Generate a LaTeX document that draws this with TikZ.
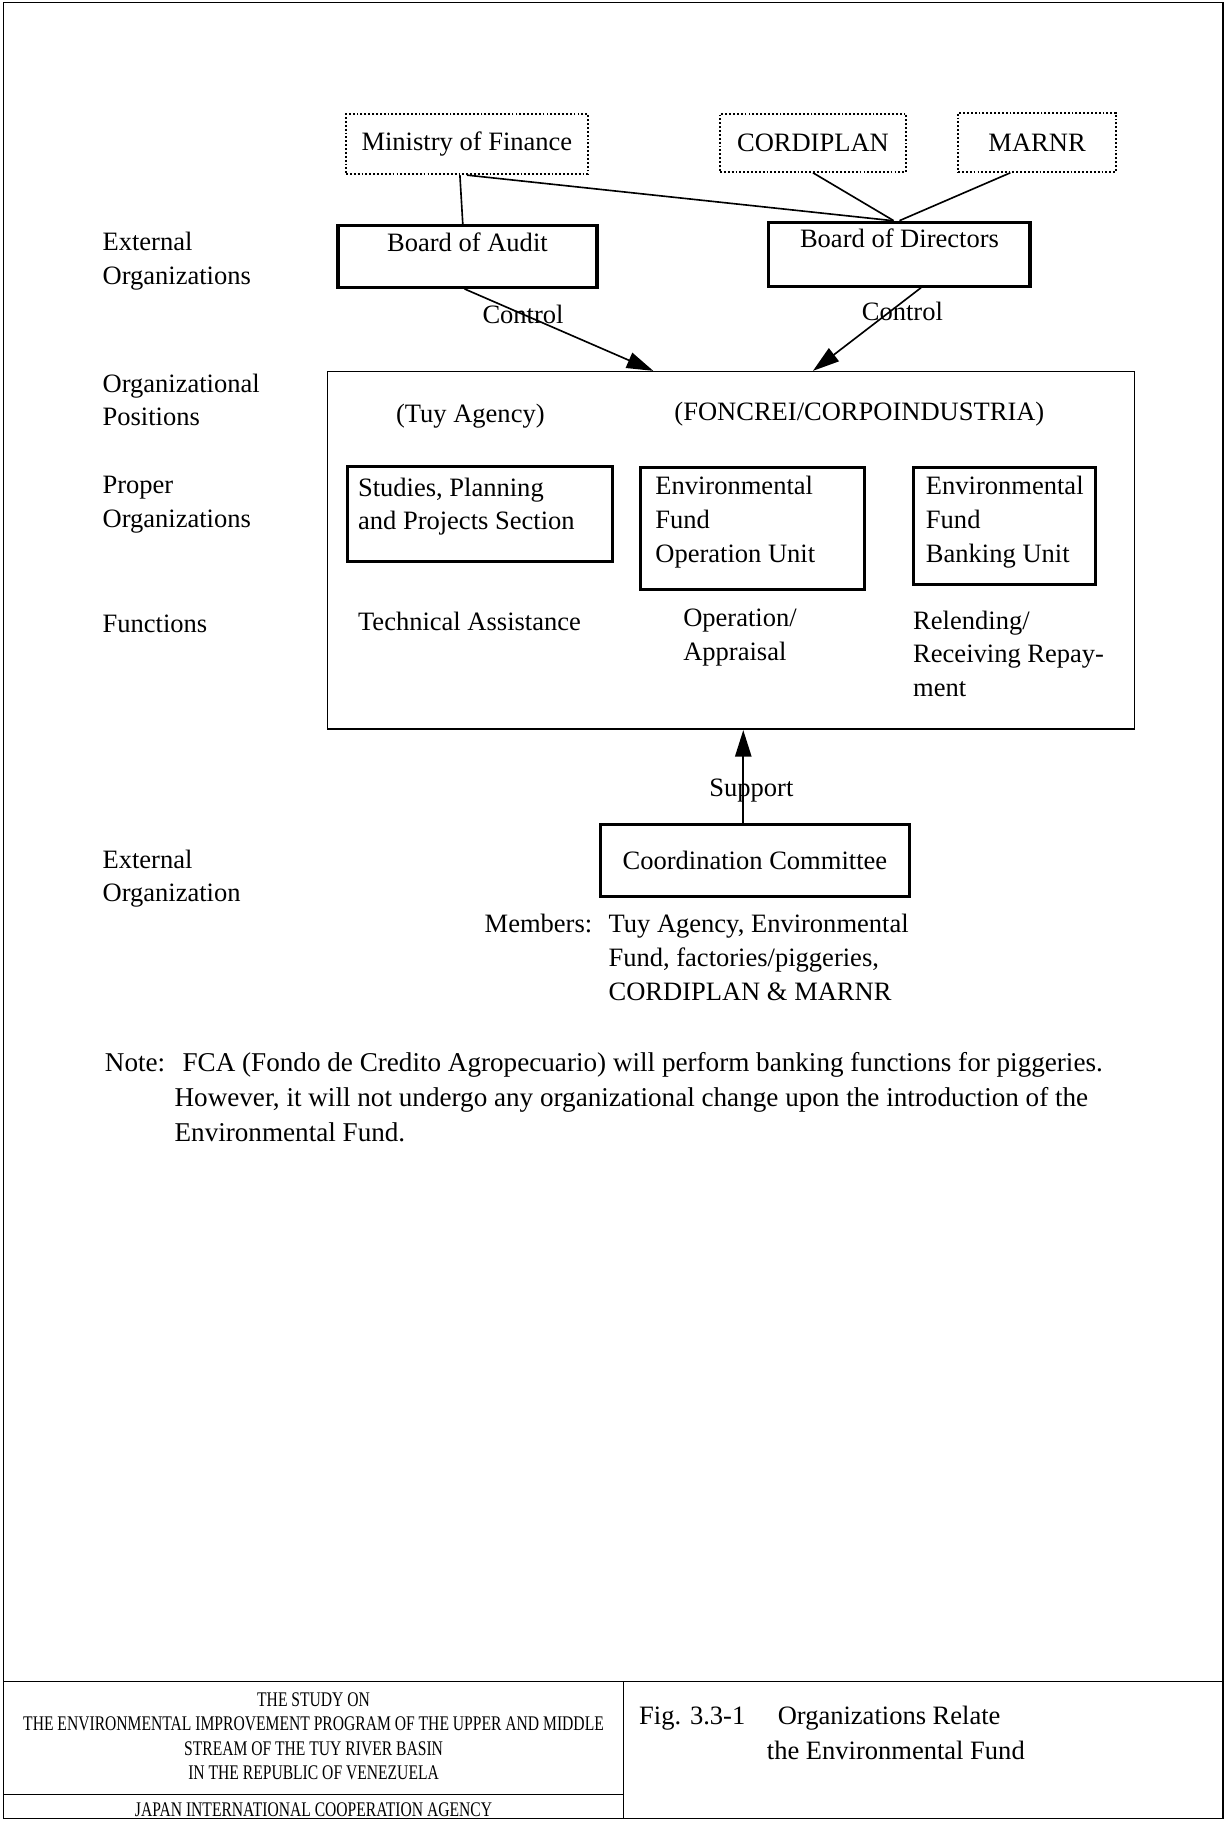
\documentclass[tikz,border=0pt]{standalone}
\usepackage{fontspec}
\setmainfont{Liberation Serif}
\newfontfamily\narrowserif[FakeStretch=0.75]{Liberation Serif}
\usetikzlibrary{arrows.meta}

\begin{document}
\begin{tikzpicture}[x=0.02cm,y=-0.02cm,
		dotbox/.style={draw, densely dotted, line width=0.9pt},
		orgbox/.style={draw, line width=1.6pt},
		unitbox/.style={draw, line width=1.5pt, anchor=north west, inner xsep=0.18cm, inner ysep=0.2cm},
		ctrl/.style={-{Triangle[length=13pt,width=8pt]}, line width=0.8pt},
		link/.style={line width=0.8pt}]
			\tikzstyle{every node}+=[inner sep=0pt, font=\fontsize{13}{16.5}\selectfont]
			\useasboundingbox (0,0) rectangle (1056,1568);
			\draw [black, line width=0.6pt] (3,2) rectangle (1053,1566);
			\node [anchor=west, align=left] (extorgs) at (88,225) {External\\Organizations};
			\node [anchor=west, align=left] (orgpos) at (88,344.5) {Organizational\\Positions};
			\node [anchor=west, align=left] (properorg) at (88,434.5) {Proper\\Organizations};
			\node [anchor=west] (functions) at (88,537) {Functions};
			\node [anchor=west, align=left] (extorg) at (88,756.5) {External\\Organization};
			\node [dotbox, minimum width=4.16cm, minimum height=1.04cm] (mof) at (402,124) {Ministry of Finance};
			\node [dotbox, minimum width=3.2cm, minimum height=1cm] (cord) at (700,123) {CORDIPLAN};
			\node [dotbox, minimum width=2.72cm, minimum height=1.02cm] (marnr) at (893,122.5) {MARNR};
			\node [orgbox, anchor=north, minimum width=4.46cm, text height=0.44cm, text depth=0.62cm] (audit) at (402.5,193) {Board of Audit};
			\node [orgbox, anchor=north, minimum width=4.5cm, text height=0.44cm, text depth=0.66cm] (bod) at (774.5,190) {Board of Directors};
			\draw [link] ([xshift=-0.12cm]mof.south) -- ([xshift=-0.08cm]audit.north);
			\draw [link] (mof.south) -- ([xshift=-0.12cm]bod.north);
			\draw [link] (cord.south) -- ([xshift=-0.1cm]bod.north);
			\draw [link] ([xshift=-0.46cm]marnr.south) -- (bod.north);
			\node [draw, line width=0.8pt, minimum width=13.9cm, minimum height=6.16cm] (main) at (629.5,474) {};
			\coordinate (inaudit) at ([xshift=-1.34cm]main.north);
			\coordinate (inbod) at ([xshift=1.41cm]main.north);
			\draw [ctrl] ([xshift=-0.05cm]audit.south) -- node[pos=0.31] {Control} (inaudit);
			\draw [ctrl] ([xshift=0.37cm]bod.south) -- node[pos=0.29, xshift=0.22cm] {Control} (inbod);
			\node (tuy) at (405,358) {(Tuy Agency)};
			\node (foncrei) at (740,357) {(FONCREI/CORPOINDUSTRIA)};
			\node [unitbox] (studies) at (298,400) {\parbox[t][1.24cm][t]{4.2cm}{\raggedright Studies, Planning\\and Projects Section}};
			\node [unitbox, inner xsep=0.26cm, inner ysep=0.16cm] (opunit) at (550,401) {\parbox[t][1.78cm][t]{3.34cm}{\raggedright Environmental\\Fund\\Operation Unit}};
			\node [unitbox, inner xsep=0.22cm, inner ysep=0.16cm] (bankunit) at (785,401) {\parbox[t][1.7cm][t]{2.7cm}{\raggedright Environmental\\Fund\\Banking Unit}};
			\node [anchor=west] (techassist) at (308,535) {Technical Assistance};
			\node [anchor=west, align=left] (appraisal) at (588,549) {Operation/\\Appraisal};
			\node [anchor=west, align=left] (relending) at (786,563) {Relending/\\Receiving Repay-\\ment};
			\node [orgbox, line width=1.2pt, minimum width=5.32cm, minimum height=1.24cm] (cc) at (650,741) {Coordination Committee};
			\draw [ctrl] ([xshift=-0.2cm]cc.north) -- node[pos=0.35, xshift=0.14cm] {Support} ([xshift=-0.2cm]cc.north |- main.south);
			\node [anchor=west] (members) at (417,826.5) {\begin{tabular}{@{}l@{\hspace{8pt}}l@{}}Members: & Tuy Agency, Environmental\\ & Fund, factories/piggeries,\\ & CORDIPLAN \& MARNR\end{tabular}};
			\node [anchor=west, align=left, font=\fontsize{13.3}{17.2}\selectfont] (note) at (90,945) {Note:\hspace{0.3cm}FCA (Fondo de Credito Agropecuario) will perform banking functions for piggeries.\\\hspace*{1.2cm}However, it will not undergo any organizational change upon the introduction of the\\\hspace*{1.2cm}Environmental Fund.};
			\draw [black, line width=0.6pt] (3,1448) -- (1053,1448);
			\draw [black, line width=0.6pt] (537,1448) -- (537,1566);
			\draw [black, line width=0.6pt] (3,1545) -- (537,1545);
			\node [font=\narrowserif\fontsize{10.2}{11.8}\selectfont, align=center] (study) at (270,1495) {THE STUDY ON\\THE ENVIRONMENTAL IMPROVEMENT PROGRAM OF THE UPPER AND MIDDLE\\STREAM OF THE TUY RIVER BASIN\\IN THE REPUBLIC OF VENEZUELA};
			\node [font=\narrowserif\fontsize{10.2}{11.8}\selectfont] (jica) at (270,1558) {JAPAN INTERNATIONAL COOPERATION AGENCY};
			\node [anchor=west, align=left, font=\fontsize{13}{17}\selectfont] (figtitle) at (550,1492) {Fig. 3.3-1\hspace{0.56cm}Organizations Relate\\\hspace*{2.2cm}the Environmental Fund};
		\end{tikzpicture}
\end{document}
